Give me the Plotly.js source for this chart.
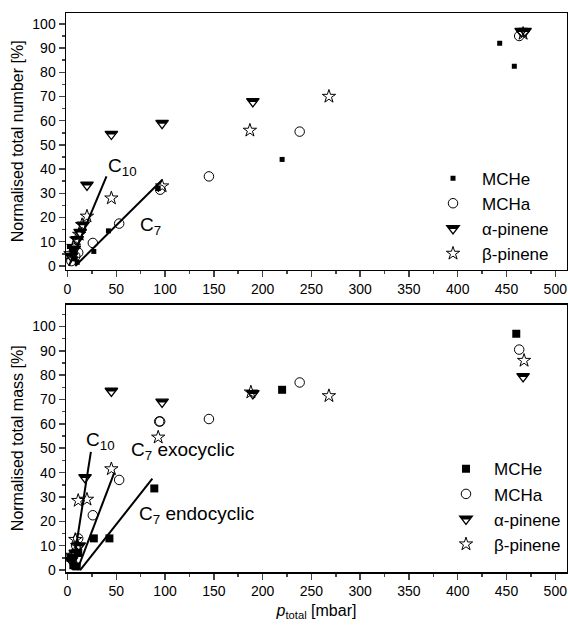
<!DOCTYPE html>
<html>
<head>
<meta charset="utf-8">
<script src="https://cdn.plot.ly/plotly-3.0.1.min.js"></script>
<style>html,body{margin:0;padding:0;background:#fff;}#chart{width:568px;height:627px;}</style>
</head>
<body>
<div id="chart"></div>
<script>
// ---- Top panel: normalised total number [%] ----
const numMCHeX = [2, 5, 8, 10, 27, 42, 93, 220, 443, 458];
const numMCHeY = [8, 6, 3, 1.5, 6, 14.5, 32, 44, 92, 82.5];
const numMCHaX = [4, 8, 11, 26, 53, 95, 145, 238, 463];
const numMCHaY = [2, 4, 5.5, 9.5, 17.5, 31.5, 37, 55.5, 95];
const numAlphaX = [4, 7, 10, 13, 16, 20, 45, 97, 190, 465, 469];
const numAlphaY = [4, 7, 11, 14, 17, 33.5, 54.5, 59, 68, 97, 97];
const numBetaX = [3, 6, 9, 12, 15, 20, 45, 97, 187, 268, 467];
const numBetaY = [5, 8, 11, 13, 17, 20.5, 28, 33, 56, 70, 96];
const numC10X = [1.5, 40];
const numC10Y = [0, 37];
const numC7X = [8, 97];
const numC7Y = [0, 35.5];

// ---- Bottom panel: normalised total mass [%] ----
const massMCHeX = [3, 6, 9.5, 11, 27, 43, 89, 220, 460];
const massMCHeY = [5, 2, 1.5, 7, 13, 13, 33.5, 74, 97];
const massMCHaX = [6, 9, 11, 26, 53, 94, 95, 145, 238, 463];
const massMCHaY = [6, 10, 13, 22.5, 37, 61, 61, 62, 77, 90.5];
const massAlphaX = [4, 8, 12, 18, 45, 97, 190, 467];
const massAlphaY = [4, 7, 10, 38, 73.5, 69, 72.5, 79.5];
const massBetaX = [5, 8, 10, 11, 20, 45, 93, 188, 268, 468];
const massBetaY = [6, 12.5, 10, 28.5, 29, 41.5, 54.5, 73, 71.5, 86];
const massC10X = [5, 24];
const massC10Y = [0, 48.5];
const massExoX = [10, 48];
const massExoY = [0, 40];
const massEndoX = [13, 87];
const massEndoY = [0, 37.5];

const seriesNames = ['MCHe', 'MCHa', '\u03b1-pinene', '\u03b2-pinene'];

const FONT = 'Liberation Sans, Arial, Helvetica, sans-serif';

function pts(x, y, xa, ya, name, marker, legend) {
  return {type: 'scatter', mode: 'markers', x: x, y: y, xaxis: xa, yaxis: ya,
    name: name, marker: marker, legend: legend, cliponaxis: false};
}
function line(x, y, xa, ya) {
  return {type: 'scatter', mode: 'lines', x: x, y: y, xaxis: xa, yaxis: ya,
    line: {color: '#000', width: 2}, showlegend: false, hoverinfo: 'skip'};
}

const TRI_SIZE = 11;
const mSqSmall = {symbol: 'square', size: 5, color: '#000'};
const mSqBig = {symbol: 'square', size: 8, color: '#000'};
const mCirc = {symbol: 'circle-open', size: 9.5, color: '#000', line: {width: 1, color: '#000'}};
const mTri = {symbol: 'triangle-down-open', size: TRI_SIZE, color: '#000', line: {width: 1.3, color: '#000'}};
const mStar = {symbol: 'star-open', size: 10, color: '#000', line: {width: 1, color: '#000'}};

const data = [
  line(numC10X, numC10Y, 'x', 'y'),
  line(numC7X, numC7Y, 'x', 'y'),
  pts(numMCHeX, numMCHeY, 'x', 'y', seriesNames[0], mSqSmall, 'legend'),
  pts(numMCHaX, numMCHaY, 'x', 'y', seriesNames[1], mCirc, 'legend'),
  pts(numAlphaX, numAlphaY, 'x', 'y', seriesNames[2], mTri, 'legend'),
  pts(numBetaX, numBetaY, 'x', 'y', seriesNames[3], mStar, 'legend'),
  line(massC10X, massC10Y, 'x2', 'y2'),
  line(massExoX, massExoY, 'x2', 'y2'),
  line(massEndoX, massEndoY, 'x2', 'y2'),
  pts(massMCHeX, massMCHeY, 'x2', 'y2', seriesNames[0], mSqBig, 'legend2'),
  pts(massMCHaX, massMCHaY, 'x2', 'y2', seriesNames[1], mCirc, 'legend2'),
  pts(massAlphaX, massAlphaY, 'x2', 'y2', seriesNames[2], mTri, 'legend2'),
  pts(massBetaX, massBetaY, 'x2', 'y2', seriesNames[3], mStar, 'legend2')
];

const xCommon = {
  range: [-1.5, 512], dtick: 50, tick0: 0, ticks: 'outside', ticklen: 6, tickwidth: 1.5,
  minor: {dtick: 25, ticks: 'outside', ticklen: 3, tickwidth: 1.5, showgrid: false},
  showline: true, linewidth: 1.5, linecolor: '#000', mirror: true,
  showgrid: false, zeroline: false, tickfont: {family: FONT, size: 14, color: '#000'}
};
const yCommon = {
  dtick: 10, tick0: 0, ticks: 'outside', ticklen: 6, tickwidth: 1.5,
  minor: {dtick: 5, ticks: 'outside', ticklen: 3, tickwidth: 1.5, showgrid: false},
  showline: true, linewidth: 1.5, linecolor: '#000', mirror: true,
  showgrid: false, zeroline: false, tickfont: {family: FONT, size: 14, color: '#000'}
};

const annFont = {family: FONT, size: 19, color: '#000'};
const legFont = {family: FONT, size: 17, color: '#000'};
const layout = {
  width: 568, height: 627,
  margin: {l: 66, r: 1, t: 13, b: 55},
  paper_bgcolor: '#fff', plot_bgcolor: '#fff',
  font: {family: FONT, color: '#000'},
  xaxis: Object.assign({}, xCommon, {anchor: 'y'}),
  yaxis: Object.assign({}, yCommon, {domain: [0.541, 1], range: [-1.5, 104.5], anchor: 'x',
    title: {text: 'Normalised total number [%]', font: {family: FONT, size: 16}, standoff: 4}}),
  xaxis2: Object.assign({}, xCommon, {anchor: 'y2',
    title: {text: '<i>p</i><sub>total</sub> [mbar]', font: {family: FONT, size: 16}, standoff: 6}}),
  yaxis2: Object.assign({}, yCommon, {domain: [0, 0.4785], range: [-0.8, 109], anchor: 'x2',
    title: {text: 'Normalised total mass [%]', font: {family: FONT, size: 16}, standoff: 4}}),
  legend: {x: 0.7146, y: 0.736, xanchor: 'left', yanchor: 'top', font: legFont,
    bgcolor: 'rgba(0,0,0,0)', tracegroupgap: 0, itemwidth: 48},
  legend2: {x: 0.7425, y: 0.216, xanchor: 'left', yanchor: 'top', font: legFont,
    bgcolor: 'rgba(0,0,0,0)', tracegroupgap: 0, itemwidth: 46},
  annotations: [
    {xref: 'x', yref: 'y', x: 40, y: 41, text: 'C<sub>10</sub>', showarrow: false, xanchor: 'left', yanchor: 'middle', font: annFont},
    {xref: 'x', yref: 'y', x: 72, y: 16.5, text: 'C<sub>7</sub>', showarrow: false, xanchor: 'left', yanchor: 'middle', font: annFont},
    {xref: 'x2', yref: 'y2', x: 17, y: 53, text: 'C<sub>10</sub>', showarrow: false, xanchor: 'left', yanchor: 'middle', font: annFont},
    {xref: 'x2', yref: 'y2', x: 63, y: 49, text: 'C<sub>7</sub> exocyclic', showarrow: false, xanchor: 'left', yanchor: 'middle', font: annFont},
    {xref: 'x2', yref: 'y2', x: 71, y: 22.5, text: 'C<sub>7</sub> endocyclic', showarrow: false, xanchor: 'left', yanchor: 'middle', font: annFont}
  ]
};

// Half-filled (top part black) down-triangles, as in the reference
function addTriangleFill(gd) {
  try {
    const r = TRI_SIZE / 2, rt = r * 2 / Math.sqrt(3), r2 = r / 2;
    const yc = 0.1 * r, xc = 0.6 * rt;
    const d = 'M' + (-rt) + ',' + (-r2) + 'H' + rt + 'L' + xc + ',' + yc + 'H' + (-xc) + 'Z';
    const name = seriesNames[2];
    const addTo = function (p) {
      const np = document.createElementNS('http://www.w3.org/2000/svg', 'path');
      np.setAttribute('d', d);
      const tr = p.getAttribute('transform');
      if (tr) np.setAttribute('transform', tr);
      np.setAttribute('style', 'fill:#000;stroke:none;');
      p.parentNode.insertBefore(np, p.nextSibling);
    };
    gd.querySelectorAll('g.trace.scatter').forEach(function (g) {
      const dd = g.__data__;
      if (dd && dd[0] && dd[0].trace && dd[0].trace.name === name) {
        g.querySelectorAll('path.point').forEach(addTo);
      }
    });
    gd.querySelectorAll('g.traces').forEach(function (g) {
      const dd = g.__data__;
      let t = null;
      if (dd && dd[0] && dd[0].trace) t = dd[0].trace;
      else if (dd && dd[0] && dd[0][0] && dd[0][0].trace) t = dd[0][0].trace;
      if (t && t.name === name) {
        g.querySelectorAll('path.scatterpts').forEach(function (p) {
          if (!p.__done) { p.__done = true; addTo(p); }
        });
      }
    });
  } catch (e) { /* decoration only */ }
}

Plotly.newPlot('chart', data, layout, {displayModeBar: false, staticPlot: true}).then(addTriangleFill);
</script>
</body>
</html>
